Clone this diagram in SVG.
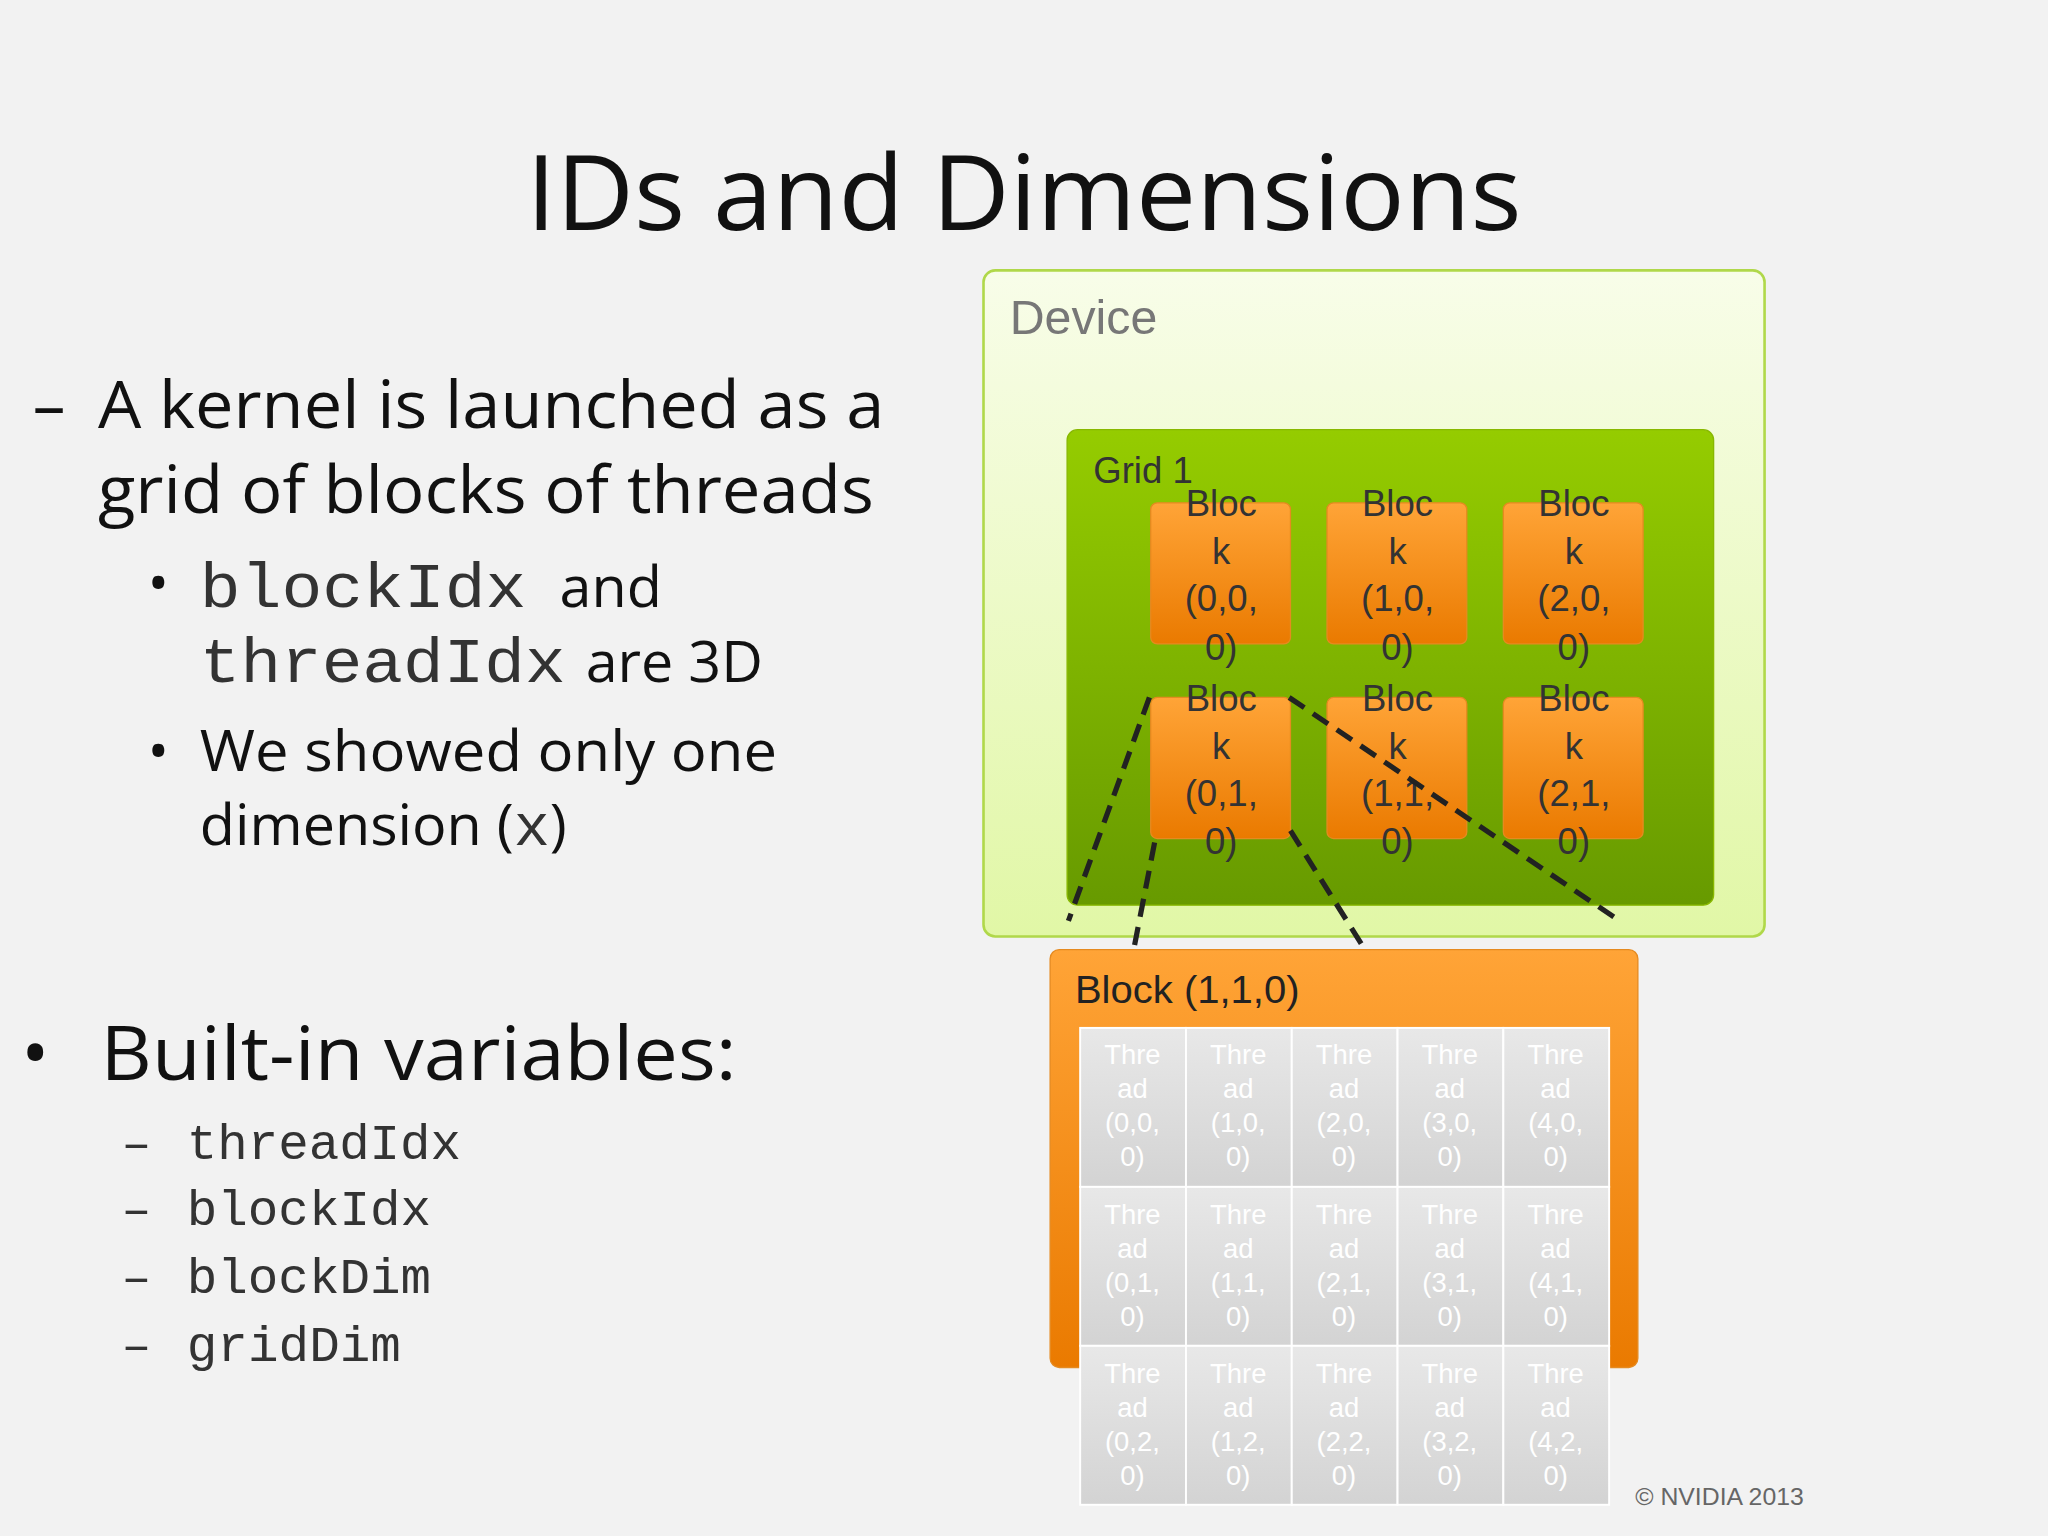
<svg xmlns="http://www.w3.org/2000/svg" width="2048" height="1536" viewBox="0 0 2048 1536">
<style>
.t{font-family:"Open Sans","Noto Sans",sans-serif;fill:#111}
.m{font-family:"Liberation Mono","Courier New",monospace;fill:#333}
.a{font-family:"Liberation Sans",Arial,sans-serif}
.bl{font-family:"Liberation Sans",Arial,sans-serif;font-size:28px;fill:#333;text-anchor:middle}
.th{font-family:"Liberation Sans",Arial,sans-serif;font-size:21px;fill:#fff;text-anchor:middle}
.blk{fill:url(#og);stroke:#e58a20;stroke-width:1}
.tc{fill:url(#gg);stroke:#fff;stroke-width:1.5}
</style>
<defs>
<linearGradient id="dg" x1="0" y1="0" x2="0" y2="1"><stop offset="0" stop-color="#f8fde9"/><stop offset="1" stop-color="#e1f7a6"/></linearGradient>
<linearGradient id="grg" x1="0" y1="0" x2="0" y2="1"><stop offset="0" stop-color="#95cc00"/><stop offset="1" stop-color="#679a00"/></linearGradient>
<linearGradient id="og" x1="0" y1="0" x2="0" y2="1"><stop offset="0" stop-color="#ffa437"/><stop offset="1" stop-color="#ea7a00"/></linearGradient>
<linearGradient id="gg" x1="0" y1="0" x2="0" y2="1"><stop offset="0" stop-color="#e8e8e8"/><stop offset="1" stop-color="#d3d3d3"/></linearGradient>
</defs>
<rect width="2048" height="1536" fill="#f2f2f2"/>
<g transform="scale(1.30612)">
<text class="t" x="403" y="176" font-size="80" textLength="762" lengthAdjust="spacingAndGlyphs">IDs and Dimensions</text>
<g class="t" font-size="50">
<text x="25" y="328">–</text>
<text x="75" y="328" textLength="602" lengthAdjust="spacingAndGlyphs">A kernel is launched as a</text>
<text x="75" y="393" textLength="594" lengthAdjust="spacingAndGlyphs">grid of blocks of threads</text>
</g>
<g font-size="44">
<text class="t" x="113" y="462">•</text>
<text x="153" y="465"><tspan class="m" font-size="48" textLength="250" lengthAdjust="spacingAndGlyphs">blockIdx</tspan><tspan class="t" dx="14"> and</tspan></text>
<text x="153" y="522"><tspan class="m" font-size="48" textLength="280" lengthAdjust="spacingAndGlyphs">threadIdx</tspan><tspan class="t" dx="4"> are 3D</tspan></text>
<text class="t" x="113" y="590">•</text>
<text class="t" x="153" y="590" textLength="442" lengthAdjust="spacingAndGlyphs">We showed only one</text>
<text x="153" y="647"><tspan class="t">dimension (</tspan><tspan class="m" font-size="46">x</tspan><tspan class="t">)</tspan></text>
</g>
<text class="t" x="16" y="827" font-size="58">•</text>
<text class="t" x="77" y="827" font-size="58" textLength="487" lengthAdjust="spacingAndGlyphs">Built-in variables:</text>
<g font-size="38">
<text class="m" x="93" y="887">–</text><text class="m" x="143" y="887" textLength="210" lengthAdjust="spacingAndGlyphs">threadIdx</text>
<text class="m" x="93" y="938">–</text><text class="m" x="143" y="938" textLength="187" lengthAdjust="spacingAndGlyphs">blockIdx</text>
<text class="m" x="93" y="990">–</text><text class="m" x="143" y="990" textLength="187" lengthAdjust="spacingAndGlyphs">blockDim</text>
<text class="m" x="93" y="1042">–</text><text class="m" x="143" y="1042" textLength="164" lengthAdjust="spacingAndGlyphs">gridDim</text>
</g>
<g id="device">
<rect x="753" y="207" width="598" height="510" rx="9" fill="url(#dg)" stroke="#b0d84a" stroke-width="2"/>
<text class="a" x="773" y="256" font-size="37" fill="#777">Device</text>
</g>
<g id="grid1">
<rect x="817" y="329" width="495" height="364" rx="8" fill="url(#grg)" stroke="#88b800"/>
<text class="a" x="837" y="370" font-size="28" fill="#333">Grid 1</text>
</g>
<g id="blocks">
<rect class="blk" x="881" y="385" width="107" height="108" rx="5"/>
<rect class="blk" x="1016" y="385" width="107" height="108" rx="5"/>
<rect class="blk" x="1151" y="385" width="107" height="108" rx="5"/>
<rect class="blk" x="881" y="534" width="107" height="108" rx="5"/>
<rect class="blk" x="1016" y="534" width="107" height="108" rx="5"/>
<rect class="blk" x="1151" y="534" width="107" height="108" rx="5"/>
<text class="bl" x="935" y="395">Bloc<tspan x="935" dy="37">k</tspan><tspan x="935" dy="36">(0,0,</tspan><tspan x="935" dy="37">0)</tspan></text>
<text class="bl" x="1070" y="395">Bloc<tspan x="1070" dy="37">k</tspan><tspan x="1070" dy="36">(1,0,</tspan><tspan x="1070" dy="37">0)</tspan></text>
<text class="bl" x="1205" y="395">Bloc<tspan x="1205" dy="37">k</tspan><tspan x="1205" dy="36">(2,0,</tspan><tspan x="1205" dy="37">0)</tspan></text>
<text class="bl" x="935" y="544">Bloc<tspan x="935" dy="37">k</tspan><tspan x="935" dy="36">(0,1,</tspan><tspan x="935" dy="37">0)</tspan></text>
<text class="bl" x="1070" y="544">Bloc<tspan x="1070" dy="37">k</tspan><tspan x="1070" dy="36">(1,1,</tspan><tspan x="1070" dy="37">0)</tspan></text>
<text class="bl" x="1205" y="544">Bloc<tspan x="1205" dy="37">k</tspan><tspan x="1205" dy="36">(2,1,</tspan><tspan x="1205" dy="37">0)</tspan></text>
</g>
<g id="connectors" stroke="#222" stroke-width="4" stroke-dasharray="14,8" fill="none">
<line x1="880" y1="534" x2="818" y2="705"/>
<line x1="987" y1="534" x2="1240" y2="705"/>
<line x1="884" y1="645" x2="868" y2="727"/>
<line x1="988" y1="636" x2="1045" y2="727"/>
</g>
<g id="block110">
<rect x="804" y="727" width="450" height="320" rx="7" fill="url(#og)" stroke="#e58a20"/>
<text class="a" x="823" y="768" font-size="29" fill="#222" textLength="172" lengthAdjust="spacingAndGlyphs">Block (1,1,0)</text>
</g>
<g id="threads">
<rect x="827" y="787" width="405" height="365" fill="#ccc"/>
<rect class="tc" x="827" y="787" width="81" height="121.7"/><rect class="tc" x="908" y="787" width="81" height="121.7"/><rect class="tc" x="989" y="787" width="81" height="121.7"/><rect class="tc" x="1070" y="787" width="81" height="121.7"/><rect class="tc" x="1151" y="787" width="81" height="121.7"/>
<rect class="tc" x="827" y="908.7" width="81" height="121.7"/><rect class="tc" x="908" y="908.7" width="81" height="121.7"/><rect class="tc" x="989" y="908.7" width="81" height="121.7"/><rect class="tc" x="1070" y="908.7" width="81" height="121.7"/><rect class="tc" x="1151" y="908.7" width="81" height="121.7"/>
<rect class="tc" x="827" y="1030.4" width="81" height="121.7"/><rect class="tc" x="908" y="1030.4" width="81" height="121.7"/><rect class="tc" x="989" y="1030.4" width="81" height="121.7"/><rect class="tc" x="1070" y="1030.4" width="81" height="121.7"/><rect class="tc" x="1151" y="1030.4" width="81" height="121.7"/>
<text class="th" x="867" y="815">Thre<tspan x="867" dy="26">ad</tspan><tspan x="867" dy="26">(0,0,</tspan><tspan x="867" dy="26">0)</tspan></text>
<text class="th" x="948" y="815">Thre<tspan x="948" dy="26">ad</tspan><tspan x="948" dy="26">(1,0,</tspan><tspan x="948" dy="26">0)</tspan></text>
<text class="th" x="1029" y="815">Thre<tspan x="1029" dy="26">ad</tspan><tspan x="1029" dy="26">(2,0,</tspan><tspan x="1029" dy="26">0)</tspan></text>
<text class="th" x="1110" y="815">Thre<tspan x="1110" dy="26">ad</tspan><tspan x="1110" dy="26">(3,0,</tspan><tspan x="1110" dy="26">0)</tspan></text>
<text class="th" x="1191" y="815">Thre<tspan x="1191" dy="26">ad</tspan><tspan x="1191" dy="26">(4,0,</tspan><tspan x="1191" dy="26">0)</tspan></text>
<text class="th" x="867" y="937">Thre<tspan x="867" dy="26">ad</tspan><tspan x="867" dy="26">(0,1,</tspan><tspan x="867" dy="26">0)</tspan></text>
<text class="th" x="948" y="937">Thre<tspan x="948" dy="26">ad</tspan><tspan x="948" dy="26">(1,1,</tspan><tspan x="948" dy="26">0)</tspan></text>
<text class="th" x="1029" y="937">Thre<tspan x="1029" dy="26">ad</tspan><tspan x="1029" dy="26">(2,1,</tspan><tspan x="1029" dy="26">0)</tspan></text>
<text class="th" x="1110" y="937">Thre<tspan x="1110" dy="26">ad</tspan><tspan x="1110" dy="26">(3,1,</tspan><tspan x="1110" dy="26">0)</tspan></text>
<text class="th" x="1191" y="937">Thre<tspan x="1191" dy="26">ad</tspan><tspan x="1191" dy="26">(4,1,</tspan><tspan x="1191" dy="26">0)</tspan></text>
<text class="th" x="867" y="1059">Thre<tspan x="867" dy="26">ad</tspan><tspan x="867" dy="26">(0,2,</tspan><tspan x="867" dy="26">0)</tspan></text>
<text class="th" x="948" y="1059">Thre<tspan x="948" dy="26">ad</tspan><tspan x="948" dy="26">(1,2,</tspan><tspan x="948" dy="26">0)</tspan></text>
<text class="th" x="1029" y="1059">Thre<tspan x="1029" dy="26">ad</tspan><tspan x="1029" dy="26">(2,2,</tspan><tspan x="1029" dy="26">0)</tspan></text>
<text class="th" x="1110" y="1059">Thre<tspan x="1110" dy="26">ad</tspan><tspan x="1110" dy="26">(3,2,</tspan><tspan x="1110" dy="26">0)</tspan></text>
<text class="th" x="1191" y="1059">Thre<tspan x="1191" dy="26">ad</tspan><tspan x="1191" dy="26">(4,2,</tspan><tspan x="1191" dy="26">0)</tspan></text>
</g>
<text class="a" x="1252" y="1152" font-size="19" fill="#666">© NVIDIA 2013</text>
</g>
</svg>
